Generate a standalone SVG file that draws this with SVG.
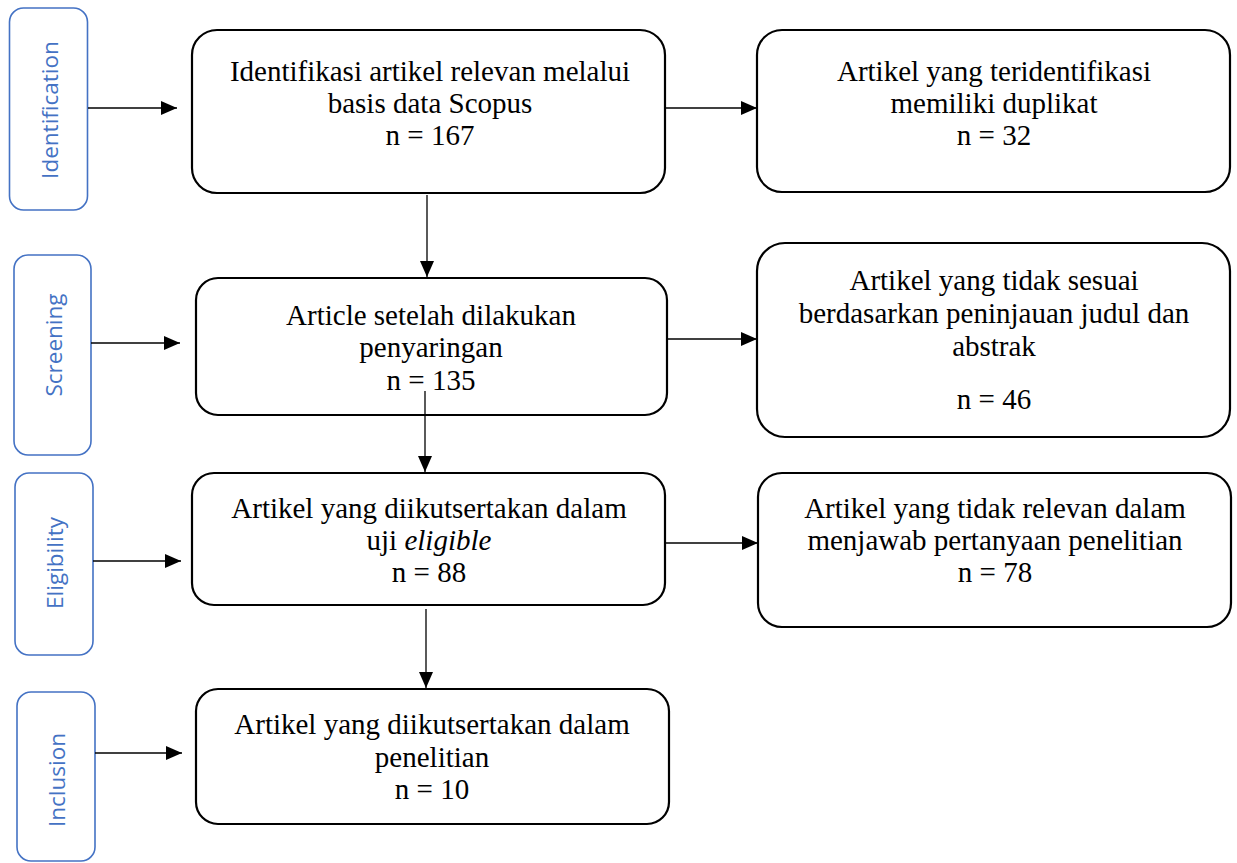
<svg xmlns="http://www.w3.org/2000/svg" width="1237" height="863" viewBox="0 0 1237 863">
<defs>
<marker id="arr" markerUnits="userSpaceOnUse" markerWidth="16" markerHeight="14" refX="16" refY="7" orient="auto">
<path d="M0,0 L16,7 L0,14 z" fill="#000"/>
</marker>
<style>
.box{fill:#fff;stroke:#000;stroke-width:2.2}
.lab{fill:#fff;stroke:#4472C4;stroke-width:1.6}
.lt{font-family:"Open Sans","Noto Sans",sans-serif;font-size:22.5px;fill:#4472C4;text-anchor:middle}
.t{font-family:"Liberation Serif","Times New Roman",serif;font-size:29px;fill:#000;text-anchor:middle}
.c{stroke:#000;stroke-width:1.3;fill:none;marker-end:url(#arr)}
</style>
</defs>
<rect width="1237" height="863" fill="#fff"/>

<g id="label-identification">
<rect class="lab" x="9.5" y="8" width="78" height="202" rx="14"/>
<text class="lt" transform="translate(58,110) rotate(-90)">Identification</text>
</g>
<g id="label-screening">
<rect class="lab" x="14" y="255" width="77" height="200" rx="14"/>
<text class="lt" transform="translate(61.5,345) rotate(-90)">Screening</text>
</g>
<g id="label-eligibility">
<rect class="lab" x="15" y="473" width="78" height="182" rx="14"/>
<text class="lt" transform="translate(63,563) rotate(-90)">Eligibility</text>
</g>
<g id="label-inclusion">
<rect class="lab" x="17" y="692" width="78" height="169" rx="14"/>
<text class="lt" transform="translate(65,780) rotate(-90)">Inclusion</text>
</g>

<g id="box-identification">
<rect class="box" x="192" y="30" width="473" height="163" rx="25"/>
<text class="t"><tspan x="430" y="81">Identifikasi artikel relevan melalui</tspan><tspan x="430" y="113">basis data Scopus</tspan><tspan x="430" y="145">n = 167</tspan></text>
</g>
<g id="box-duplikat">
<rect class="box" x="757" y="30" width="473" height="162" rx="25"/>
<text class="t"><tspan x="994" y="81">Artikel yang teridentifikasi</tspan><tspan x="994" y="113">memiliki duplikat</tspan><tspan x="994" y="145">n = 32</tspan></text>
</g>
<g id="box-screening">
<rect class="box" x="196" y="278" width="471" height="137" rx="22"/>
<text class="t"><tspan x="431" y="325">Article setelah dilakukan</tspan><tspan x="431" y="357">penyaringan</tspan><tspan x="431" y="390">n = 135</tspan></text>
</g>
<g id="box-tidak-sesuai">
<rect class="box" x="757" y="243" width="473" height="194" rx="28"/>
<text class="t"><tspan x="994" y="290">Artikel yang tidak sesuai</tspan><tspan x="994" y="323">berdasarkan peninjauan judul dan</tspan><tspan x="994" y="356">abstrak</tspan><tspan x="994" y="409">n = 46</tspan></text>
</g>
<g id="box-eligibility">
<rect class="box" x="192" y="473" width="473" height="132" rx="22"/>
<text class="t"><tspan x="429" y="518">Artikel yang diikutsertakan dalam</tspan><tspan x="429" y="550">uji <tspan font-style="italic">eligible</tspan></tspan><tspan x="429" y="582">n = 88</tspan></text>
</g>
<g id="box-tidak-relevan">
<rect class="box" x="758" y="473" width="473" height="154" rx="24"/>
<text class="t"><tspan x="995" y="518">Artikel yang tidak relevan dalam</tspan><tspan x="995" y="550">menjawab pertanyaan penelitian</tspan><tspan x="995" y="582">n = 78</tspan></text>
</g>
<g id="box-inclusion">
<rect class="box" x="196" y="689" width="473" height="135" rx="22"/>
<text class="t"><tspan x="432" y="734">Artikel yang diikutsertakan dalam</tspan><tspan x="432" y="767">penelitian</tspan><tspan x="432" y="799">n = 10</tspan></text>
</g>

<g id="connectors">
<line class="c" x1="88" y1="108" x2="177" y2="108"/>
<line class="c" x1="91" y1="343" x2="180" y2="343"/>
<line class="c" x1="93" y1="561" x2="181" y2="561"/>
<line class="c" x1="95" y1="753" x2="182" y2="753"/>
<line class="c" x1="665" y1="108" x2="757" y2="108"/>
<line class="c" x1="667" y1="339" x2="757" y2="339"/>
<line class="c" x1="665" y1="543" x2="758" y2="543"/>
<line class="c" x1="427" y1="195" x2="427" y2="277"/>
<line class="c" x1="425" y1="391" x2="425" y2="472"/>
<line class="c" x1="426" y1="609" x2="426" y2="688"/>
</g>
</svg>
